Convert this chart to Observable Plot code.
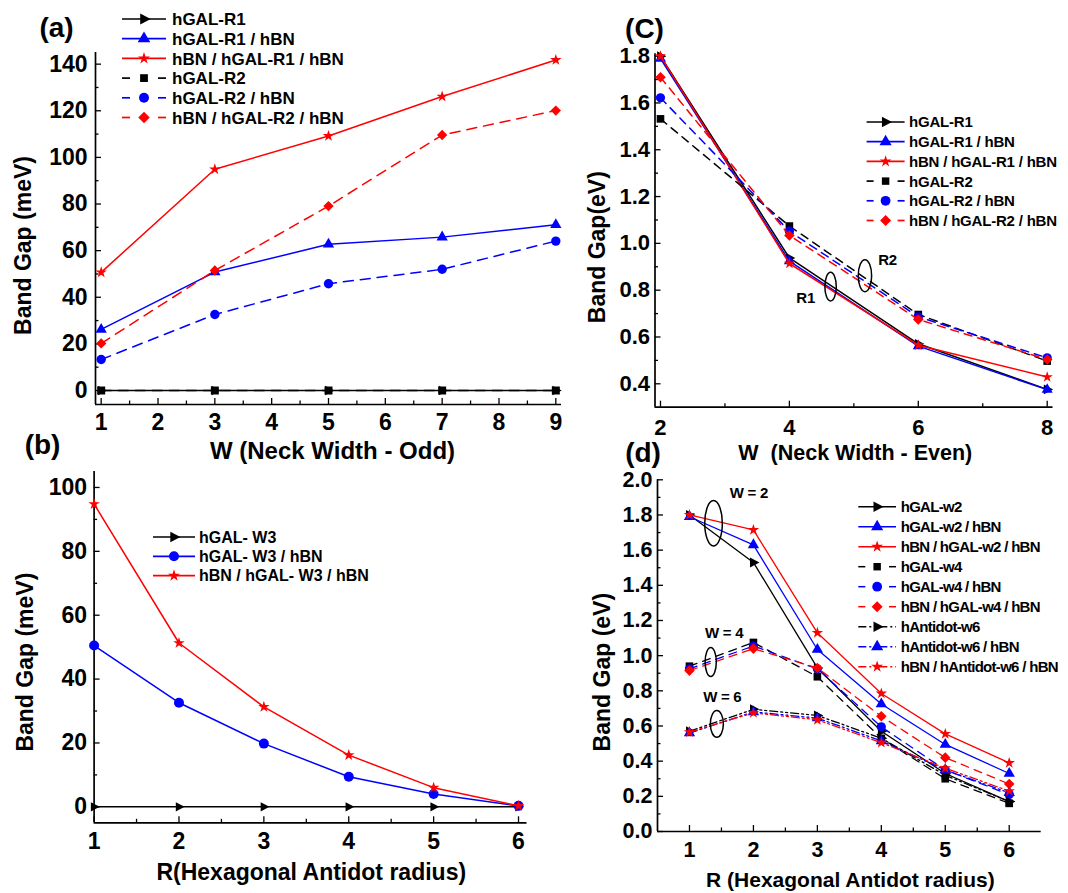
<!DOCTYPE html>
<html><head><meta charset="utf-8">
<script src="https://cdn.jsdelivr.net/npm/d3@7"></script>
<script src="https://cdn.jsdelivr.net/npm/@observablehq/plot@0.6"></script>
<style>
html,body{margin:0;padding:0;background:#fff;}
#fig{position:relative;width:1068px;height:893px;overflow:hidden;background:#fff;}
.panel{position:absolute;}
</style></head><body><div id="fig"></div>
<script>
// ---------------- data ----------------
// (a) odd neck widths, meV
const wOdd = [1, 3, 5, 7, 9];
const a_hGAL_R1 = [0, 0, 0, 0, 0];
const a_hGAL_R1_hBN = [26.2, 50.8, 62.7, 65.8, 71.1];
const a_hBN_hGAL_R1_hBN = [50.7, 94.9, 109.2, 126.1, 141.8];
const a_hGAL_R2 = [0, 0, 0, 0, 0];
const a_hGAL_R2_hBN = [13.3, 32.6, 45.8, 52.0, 64.1];
const a_hBN_hGAL_R2_hBN = [20.2, 51.5, 79.1, 109.6, 120.1];
const a_names = ["hGAL-R1", "hGAL-R1 / hBN", "hBN / hGAL-R1 / hBN", "hGAL-R2", "hGAL-R2 / hBN", "hBN / hGAL-R2 / hBN"];

// (b) antidot radius, W3, meV
const rB = [1, 2, 3, 4, 5, 6];
const b_hGAL_W3 = [0, 0, 0, 0, 0, 0];
const b_hGAL_W3_hBN = [50.5, 32.6, 19.8, 9.4, 4.0, 0.3];
const b_hBN_hGAL_W3_hBN = [94.8, 51.3, 31.3, 16.2, 6.0, 0.3];
const b_names = ["hGAL- W3", "hGAL- W3 / hBN", "hBN / hGAL- W3 / hBN"];

// (c) even neck widths, eV
const wEven = [2, 4, 6, 8];
const c_hGAL_R1 = [1.80, 0.938, 0.571, 0.376];
const c_hGAL_R1_hBN = [1.79, 0.924, 0.561, 0.375];
const c_hBN_hGAL_R1_hBN = [1.80, 0.914, 0.565, 0.429];
const c_hGAL_R2 = [1.532, 1.074, 0.696, 0.497];
const c_hGAL_R2_hBN = [1.622, 1.052, 0.686, 0.511];
const c_hBN_hGAL_R2_hBN = [1.71, 1.034, 0.675, 0.504];
const c_names = ["hGAL-R1", "hGAL-R1 / hBN", "hBN / hGAL-R1 / hBN", "hGAL-R2", "hGAL-R2 / hBN", "hBN / hGAL-R2 / hBN"];

// (d) antidot radius for W = 2, 4, 6, eV
const rD = [1, 2, 3, 4, 5, 6];
const d_hGAL_w2 = [1.80, 1.53, 0.93, 0.57, 0.33, 0.17];
const d_hGAL_w2_hBN = [1.79, 1.63, 1.035, 0.725, 0.495, 0.33];
const d_hBN_hGAL_w2_hBN = [1.80, 1.715, 1.13, 0.785, 0.555, 0.39];
const d_hGAL_w4 = [0.94, 1.075, 0.88, 0.53, 0.30, 0.16];
const d_hGAL_w4_hBN = [0.925, 1.055, 0.925, 0.595, 0.35, 0.21];
const d_hBN_hGAL_w4_hBN = [0.915, 1.04, 0.93, 0.655, 0.42, 0.27];
const d_hAntidot_w6 = [0.57, 0.695, 0.66, 0.53, 0.32, 0.17];
const d_hAntidot_w6_hBN = [0.56, 0.68, 0.645, 0.515, 0.35, 0.22];
const d_hBN_hAntidot_w6_hBN = [0.565, 0.675, 0.635, 0.505, 0.36, 0.23];
const d_names = ["hGAL-w2", "hGAL-w2 / hBN", "hBN / hGAL-w2 / hBN", "hGAL-w4", "hGAL-w4 / hBN", "hBN / hGAL-w4 / hBN", "hAntidot-w6", "hAntidot-w6 / hBN", "hBN / hAntidot-w6 / hBN"];

// annotations
const annC = [
  {kind: "ellipse", x: 4.647, y: 0.813, rx: 5.7, ry: 14.3},
  {kind: "ellipse", x: 5.18, y: 0.86, rx: 6.7, ry: 16},
  {kind: "text", x: 4.26, y: 0.767, text: "R1"},
  {kind: "text", x: 5.53, y: 0.93, text: "R2"}
];
const annD = [
  {kind: "ellipse", x: 1.384, y: 1.75, rx: 8.8, ry: 22.7},
  {kind: "ellipse", x: 1.34, y: 0.961, rx: 5.6, ry: 14.5},
  {kind: "ellipse", x: 1.436, y: 0.609, rx: 6.5, ry: 13.3},
  {kind: "text", x: 1.937, y: 1.924, text: "W = 2"},
  {kind: "text", x: 1.55, y: 1.128, text: "W = 4"},
  {kind: "text", x: 1.52, y: 0.762, text: "W = 6"}
];

// ---------------- styles ----------------
const F = "'Liberation Sans', Arial, Helvetica, sans-serif";
const BLACK = "#000000", BLUE = "#0000ff", RED = "#ff0000";
const SYM = {
  rtri: {draw(c, s) { const r = Math.sqrt(s / Math.PI); c.moveTo(1.4 * r, 0); c.lineTo(-0.8 * r, -1.15 * r); c.lineTo(-0.8 * r, 1.15 * r); c.closePath(); }},
  tri: d3.symbolTriangle,
  star: d3.symbolStar,
  square: d3.symbolSquare,
  circle: d3.symbolCircle,
  diamond: {draw(c, s) { const r = Math.sqrt(s / Math.PI) * 1.1; c.moveTo(0, -r); c.lineTo(r, 0); c.lineTo(0, r); c.lineTo(-r, 0); c.closePath(); }}
};
const styleA = [
  {color: BLACK, dash: "solid", sym: "rtri"}, {color: BLUE, dash: "solid", sym: "tri"}, {color: RED, dash: "solid", sym: "star"},
  {color: BLACK, dash: "dash", sym: "square"}, {color: BLUE, dash: "dash", sym: "circle"}, {color: RED, dash: "dash", sym: "diamond"}
];
const styleB = [
  {color: BLACK, dash: "solid", sym: "rtri"}, {color: BLUE, dash: "solid", sym: "circle"}, {color: RED, dash: "solid", sym: "star"}
];
const styleD = [
  ...styleA,
  {color: BLACK, dash: "dashdot", sym: "rtri"}, {color: BLUE, dash: "dashdot", sym: "tri"}, {color: RED, dash: "dashdot", sym: "star"}
];

function series(names, arrays, styles) {
  return names.map((name, i) => ({name, values: arrays[i], ...styles[i]}));
}

const range = (a, b, s) => d3.range(a, b + s / 2, s).map(v => +v.toFixed(3));
const fmt1 = d3.format(".1f");

const panels = [
  {
    left: 0, top: 0, width: 565, height: 460, ml: 95, mr: 4, mt: 52, mb: 56,
    xDomain: [0.9, 9.1], yDomain: [-6, 145],
    xs: wOdd,
    xMajor: range(1, 9, 1), xMinor: range(1.5, 8.5, 1),
    yMajor: range(0, 140, 20), yMinor: range(10, 130, 20),
    xFormat: d => String(d), yFormat: d => String(d),
    xPad: 9, yPad: 8, tickFont: 23,
    xTitle: "W (Neck Width - Odd)", xtFont: 24, xtDx: 4, xtDy: 46.5,
    yTitle: "Band Gap (meV)", ytFont: 23, ytDx: -72, ytDy: 17,
    label: "(a)", lbDx: -39, lbDy: -24,
    lw: 1.5, dashes: {dash: "10,7"},
    symR: {rtri: 4.2, tri: 4.2, star: 3.6, square: 4.5, circle: 4.7, diamond: 4.7},
    series: series(a_names, [a_hGAL_R1, a_hGAL_R1_hBN, a_hBN_hGAL_R1_hBN, a_hGAL_R2, a_hGAL_R2_hBN, a_hBN_hGAL_R2_hBN], styleA),
    legend: {x0: 122, x1: 166, xt: 172, y0: 19, dy: 19.7, font: 17, ls: 0, seg: 8,
      symR: {rtri: 4.8, tri: 4.7, star: 3.8, square: 4.4, circle: 5, diamond: 5.2}}
  },
  {
    left: 0, top: 440, width: 565, height: 453, ml: 93.6, mr: 38.5, mt: 31, mb: 70.7,
    xDomain: [1, 6.1], yDomain: [-5, 105],
    xs: rB,
    xMajor: range(1, 6, 1), xMinor: range(1.5, 5.5, 1),
    yMajor: range(0, 100, 20), yMinor: range(10, 90, 20),
    xFormat: d => String(d), yFormat: d => String(d),
    xPad: 10, yPad: 7, tickFont: 23,
    xTitle: "R(Hexagonal Antidot radius)", xtFont: 23, xtDx: 0.7, xtDy: 49.4,
    yTitle: "Band Gap (meV)", ytFont: 23, ytDx: -68.6, ytDy: 15,
    label: "(b)", lbDx: -51.6, lbDy: -26,
    lw: 1.5, dashes: {},
    symR: {rtri: 4, circle: 5, star: 3.6},
    series: series(b_names, [b_hGAL_W3, b_hGAL_W3_hBN, b_hBN_hGAL_W3_hBN], styleB),
    legend: {x0: 153, x1: 195, xt: 199, y0: 97, dy: 19.3, font: 16, ls: 0, seg: 8,
      symR: {rtri: 4.6, circle: 5, star: 3.8}}
  },
  {
    left: 540, top: 0, width: 528, height: 470, ml: 114.5, mr: 15.5, mt: 53.3, mb: 63.3,
    xDomain: [1.915, 8.09], yDomain: [0.3, 1.81],
    xs: wEven,
    xMajor: [2, 4, 6, 8], xMinor: [3, 5, 7],
    yMajor: range(0.4, 1.8, 0.2), yMinor: range(0.5, 1.7, 0.2),
    xFormat: d => String(d), yFormat: fmt1,
    xPad: 12, yPad: 5, tickFont: 22,
    xTitle: "W  (Neck Width - Even)", xtFont: 21.5, xtDx: 1.3, xtDy: 46.3,
    yTitle: "Band Gap(eV)", ytFont: 23, ytDx: -57.5, ytDy: 16.7,
    label: "(C)", lbDx: -10.5, lbDy: -24.5,
    lw: 1.5, dashes: {dash: "8,6"},
    symR: {rtri: 4.2, tri: 4.1, star: 3.5, square: 4.3, circle: 4.6, diamond: 4.8},
    series: series(c_names, [c_hGAL_R1, c_hGAL_R1_hBN, c_hBN_hGAL_R1_hBN, c_hGAL_R2, c_hGAL_R2_hBN, c_hBN_hGAL_R2_hBN], styleA),
    legend: {x0: 326.6, x1: 364.6, xt: 369, y0: 122, dy: 19.7, font: 15, ls: -0.2, seg: 7,
      symR: {rtri: 4.6, tri: 4.5, star: 3.7, square: 4.2, circle: 4.9, diamond: 5}},
    ann: annC
  },
  {
    left: 540, top: 440, width: 528, height: 453, ml: 117, mr: 27.3, mt: 39.3, mb: 62,
    xDomain: [0.5, 6.5], yDomain: [0, 2],
    xs: rD,
    xMajor: range(1, 6, 1), xMinor: range(1.5, 5.5, 1),
    yMajor: range(0, 2, 0.2), yMinor: range(0.1, 1.9, 0.2),
    xFormat: d => String(d), yFormat: fmt1,
    xPad: 10, yPad: 5, tickFont: 21.5,
    xTitle: "R (Hexagonal Antidot radius)", xtFont: 21, xtDx: 1, xtDy: 49,
    yTitle: "Band Gap (eV)", ytFont: 23, ytDx: -55, ytDy: 16.5,
    label: "(d)", lbDx: -14.5, lbDy: -27,
    lw: 1.3, dashes: {dash: "8,6", dashdot: "8,3,2,3,2,3"},
    symR: {rtri: 4.3, tri: 4.2, star: 3.6, square: 4.3, circle: 4.6, diamond: 4.8},
    series: series(d_names, [d_hGAL_w2, d_hGAL_w2_hBN, d_hBN_hGAL_w2_hBN, d_hGAL_w4, d_hGAL_w4_hBN, d_hBN_hGAL_w4_hBN, d_hAntidot_w6, d_hAntidot_w6_hBN, d_hBN_hAntidot_w6_hBN], styleD),
    legend: {x0: 318.3, x1: 356, xt: 360.7, y0: 66.7, dy: 20, font: 15, ls: -0.7, seg: 7,
      symR: {rtri: 4.6, tri: 4.5, star: 3.7, square: 4.2, circle: 4.9, diamond: 5}},
    ann: annD
  }
];

function buildPanel(P) {
  const innerW = P.width - P.ml - P.mr, innerH = P.height - P.mt - P.mb;
  const ax = {stroke: "#000", strokeWidth: 1.3};
  const marks = [
    Plot.ruleX(P.xMajor, {x: d => d, insetTop: innerH - 6, ...ax}),
    Plot.ruleX(P.xMinor, {x: d => d, insetTop: innerH - 3.5, ...ax}),
    Plot.ruleY(P.yMajor, {y: d => d, insetRight: innerW - 6, ...ax}),
    Plot.ruleY(P.yMinor, {y: d => d, insetRight: innerW - 3.5, ...ax}),
    Plot.ruleX([P.xDomain[0]], {x: d => d, stroke: "#000", strokeWidth: 1.7}),
    Plot.ruleY([P.yDomain[0]], {y: d => d, stroke: "#000", strokeWidth: 1.7}),
    Plot.axisX(P.xMajor, {anchor: "bottom", tickSize: 0, tickPadding: P.xPad, fontSize: P.tickFont, fontWeight: "bold", label: null, tickFormat: P.xFormat, fill: "#000"}),
    Plot.axisY(P.yMajor, {anchor: "left", tickSize: 0, tickPadding: P.yPad, fontSize: P.tickFont, fontWeight: "bold", label: null, tickFormat: P.yFormat, fill: "#000"})
  ];
  P.series.forEach(s => {
    const data = s.values.map((v, i) => ({x: P.xs[i], y: v}));
    marks.push(Plot.line(data, {x: "x", y: "y", stroke: s.color, strokeWidth: P.lw, strokeDasharray: s.dash === "solid" ? null : P.dashes[s.dash]}));
    marks.push(Plot.dot(data, {x: "x", y: "y", symbol: SYM[s.sym], r: P.symR[s.sym], fill: s.color, stroke: "none"}));
  });
  marks.push(Plot.text([P.xTitle], {text: d => d, frameAnchor: "bottom", textAnchor: "middle", lineAnchor: "middle", dx: P.xtDx, dy: P.xtDy, fontSize: P.xtFont, fontWeight: "bold", fill: "#000"}));
  marks.push(Plot.text([P.yTitle], {text: d => d, frameAnchor: "left", rotate: -90, textAnchor: "middle", lineAnchor: "middle", dx: P.ytDx, dy: P.ytDy, fontSize: P.ytFont, fontWeight: "bold", fill: "#000"}));
  marks.push(Plot.text([P.label], {text: d => d, frameAnchor: "top-left", textAnchor: "middle", lineAnchor: "middle", dx: P.lbDx, dy: P.lbDy, fontSize: 28, fontWeight: "bold", fill: "#000"}));

  const svg = Plot.plot({
    width: P.width, height: P.height,
    marginLeft: P.ml, marginRight: P.mr, marginTop: P.mt, marginBottom: P.mb,
    x: {domain: P.xDomain}, y: {domain: P.yDomain},
    style: {background: "transparent", overflow: "visible", fontFamily: F, color: "#000"},
    marks
  });

  // legend
  const L = P.legend;
  const g = d3.select(svg).append("g").attr("text-anchor", "start");
  P.series.forEach((s, i) => {
    const y = L.y0 + i * L.dy;
    const seg = (x1, x2, dash) => g.append("line").attr("x1", x1).attr("x2", x2).attr("y1", y).attr("y2", y)
      .attr("stroke", s.color).attr("stroke-width", P.lw + 0.2).attr("stroke-dasharray", dash || null);
    if (s.dash === "solid") seg(L.x0, L.x1);
    else if (s.dash === "dash") { seg(L.x0, L.x0 + L.seg); seg(L.x1 - L.seg, L.x1); }
    else seg(L.x0, L.x1, P.dashes[s.dash]);
    const r = L.symR[s.sym];
    g.append("path").attr("d", d3.symbol(SYM[s.sym], Math.PI * r * r)())
      .attr("transform", `translate(${(L.x0 + L.x1) / 2},${y})`).attr("fill", s.color);
    g.append("text").attr("x", L.xt).attr("y", y).attr("dy", "0.36em").attr("text-anchor", "start")
      .attr("font-family", F).attr("font-weight", "bold").attr("font-size", L.font)
      .attr("letter-spacing", L.ls).attr("fill", "#000").text(s.name);
  });

  // annotations
  if (P.ann) {
    const sx = svg.scale("x"), sy = svg.scale("y");
    P.ann.forEach(a => {
      if (a.kind === "ellipse") {
        g.append("ellipse").attr("cx", sx.apply(a.x)).attr("cy", sy.apply(a.y)).attr("rx", a.rx).attr("ry", a.ry)
          .attr("fill", "none").attr("stroke", "#000").attr("stroke-width", 1.5);
      } else {
        g.append("text").attr("x", sx.apply(a.x)).attr("y", sy.apply(a.y)).attr("dy", "0.36em")
          .attr("text-anchor", "middle").attr("font-family", F).attr("font-weight", "bold")
          .attr("font-size", 15).attr("letter-spacing", -0.3).attr("fill", "#000").text(a.text);
      }
    });
  }

  const div = document.createElement("div");
  div.className = "panel";
  div.style.left = P.left + "px";
  div.style.top = P.top + "px";
  div.style.width = P.width + "px";
  div.style.height = P.height + "px";
  div.appendChild(svg);
  document.getElementById("fig").appendChild(div);
}

panels.forEach(buildPanel);
</script>
</body></html>
